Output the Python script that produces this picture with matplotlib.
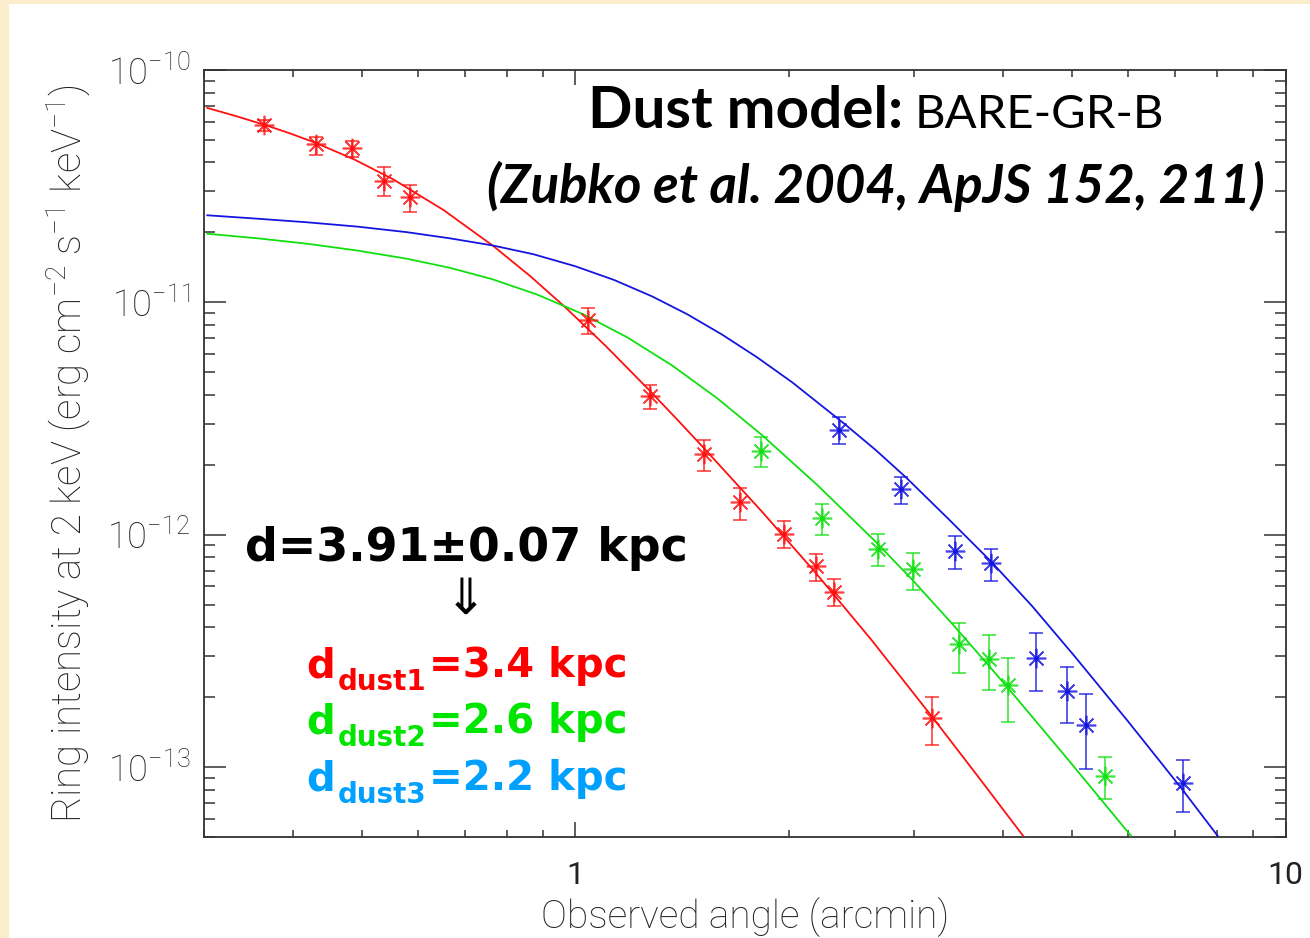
import matplotlib
matplotlib.use("Agg")
import matplotlib.pyplot as plt
from matplotlib.patches import Rectangle
from matplotlib.ticker import FixedLocator, NullFormatter, LogLocator
import numpy as np

# ---------------- data ----------------
red_x = [0.365, 0.432, 0.485, 0.537, 0.585, 1.042, 1.272, 1.519, 1.707, 1.97, 2.18, 2.316, 3.18]
red_y = [5.8e-11, 4.8e-11, 4.6e-11, 3.34e-11, 2.84e-11, 8.43e-12, 3.97e-12, 2.23e-12, 1.38e-12,
         1.01e-12, 7.3e-13, 5.68e-13, 1.62e-13]
red_hi = [6.09e-11, 5.17e-11, 4.97e-11, 3.82e-11, 3.21e-11, 9.46e-12, 4.43e-12, 2.55e-12, 1.59e-12,
          1.15e-12, 8.24e-13, 6.43e-13, 2.0e-13]
red_lo = [5.48e-11, 4.31e-11, 4.21e-11, 2.86e-11, 2.44e-11, 7.33e-12, 3.48e-12, 1.88e-12, 1.16e-12,
          8.8e-13, 6.33e-13, 4.91e-13, 1.245e-13]

green_x = [1.827, 2.228, 2.665, 2.99, 3.47, 3.823, 4.065, 5.575]
green_y = [2.29e-12, 1.175e-12, 8.7e-13, 7.1e-13, 3.37e-13, 2.92e-13, 2.26e-13, 9.18e-14]
green_hi = [2.63e-12, 1.35e-12, 1.01e-12, 8.37e-13, 4.16e-13, 3.71e-13, 2.94e-13, 1.11e-13]
green_lo = [1.96e-12, 9.98e-13, 7.3e-13, 5.78e-13, 2.54e-13, 2.15e-13, 1.57e-13, 7.3e-14]

blue_x = [2.35, 2.87, 3.43, 3.853, 4.45, 4.92, 5.24, 7.17]
blue_y = [2.81e-12, 1.57e-12, 8.49e-13, 7.52e-13, 2.95e-13, 2.12e-13, 1.52e-13, 8.5e-14]
blue_hi = [3.21e-12, 1.77e-12, 9.89e-13, 8.65e-13, 3.76e-13, 2.70e-13, 2.07e-13, 1.07e-13]
blue_lo = [2.45e-12, 1.35e-12, 7.1e-13, 6.35e-13, 2.13e-13, 1.54e-13, 9.82e-14, 6.4e-14]

# model curves
red_curve_x = [0.3032, 0.3331, 0.3658, 0.3966, 0.4313, 0.4894, 0.5550, 0.6526, 0.7671, 0.8619,
               0.9651, 1.1054, 1.2702, 1.3907, 1.5176, 1.8313, 2.1734, 2.6130, 3.1722, 3.6813, 4.2677]
red_curve_y = [6.869e-11, 6.327e-11, 5.797e-11, 5.334e-11, 4.852e-11, 4.108e-11, 3.374e-11, 2.494e-11,
               1.744e-11, 1.305e-11, 9.602e-12, 6.457e-12, 4.194e-12, 3.136e-12, 2.356e-12, 1.257e-12,
               6.926e-13, 3.520e-13, 1.661e-13, 9.194e-14, 5.073e-14]
green_curve_x = [0.3032, 0.3564, 0.4190, 0.4926, 0.5789, 0.6652, 0.7646, 0.8844, 1.0229, 1.1831,
                 1.3686, 1.5831, 1.8313, 2.1936, 2.6382, 2.9841, 3.3847, 3.8148, 4.0700, 4.9582, 6.0582]
green_curve_y = [1.9733e-11, 1.8874e-11, 1.7878e-11, 1.6719e-11, 1.5410e-11, 1.4091e-11, 1.2569e-11,
                 1.0792e-11, 8.923e-12, 7.072e-12, 5.351e-12, 3.871e-12, 2.685e-12, 1.6313e-12,
                 9.433e-13, 6.381e-13, 4.173e-13, 2.749e-13, 2.182e-13, 1.0633e-13, 5.063e-14]
blue_curve_x = [0.3032, 0.3564, 0.4190, 0.4926, 0.5789, 0.6652, 0.7646, 0.8730, 1.0, 1.1343, 1.2826,
                1.4365, 1.6088, 1.8016, 2.0176, 2.3941, 2.6474, 2.9262, 3.3515, 3.8525, 4.3985,
                5.0380, 5.9806, 7.1202, 8.0252]
blue_curve_y = [2.370e-11, 2.2915e-11, 2.211e-11, 2.119e-11, 2.005e-11, 1.887e-11, 1.758e-11,
                1.611e-11, 1.430e-11, 1.248e-11, 1.061e-11, 8.897e-12, 7.271e-12, 5.808e-12,
                4.541e-12, 2.996e-12, 2.317e-12, 1.756e-12, 1.170e-12, 7.647e-13, 4.925e-13,
                3.018e-13, 1.594e-13, 8.171e-14, 5.058e-14]

x_ticks = [1, 10]
x_ticklabels = ["1", "10"]
y_ticks = [1e-13, 1e-12, 1e-11, 1e-10]
y_ticklabels = [r"$10^{-13}$", r"$10^{-12}$", r"$10^{-11}$", r"$10^{-10}$"]

# ---------------- style ----------------
plt.rcParams['mathtext.fontset'] = 'custom'
plt.rcParams['mathtext.rm'] = 'Roboto:light'
plt.rcParams['mathtext.it'] = 'Roboto:light:italic'
plt.rcParams['mathtext.bf'] = 'Roboto:bold'
plt.rcParams['font.family'] = ['Roboto', 'DejaVu Sans']

W, H = 1310, 938
fig = plt.figure(figsize=(W / 100, H / 100), dpi=100)
fig.patch.set_facecolor('#fbeccb')
fig.add_artist(Rectangle((9 / W, 0), 1, 1 - 4 / H, transform=fig.transFigure,
                         facecolor='white', edgecolor='none', zorder=0))

ax = fig.add_axes([204 / W, (H - 837) / H, (1285.5 - 204) / W, (837 - 70) / H])
ax.set_xscale('log')
ax.set_yscale('log')
ax.set_xlim(0.3, 10)
ax.set_ylim(5e-14, 1e-10)

RED = '#ff1010'
GREEN = '#10e010'
BLUE = '#1515e0'

for cx, cy, col in [(red_curve_x, red_curve_y, RED), (green_curve_x, green_curve_y, GREEN),
                    (blue_curve_x, blue_curve_y, BLUE)]:
    ax.plot(cx, cy, color=col, lw=1.3, solid_joinstyle='round', zorder=3)

for px, py, hi, lo, col in [(red_x, red_y, red_hi, red_lo, RED),
                            (green_x, green_y, green_hi, green_lo, GREEN),
                            (blue_x, blue_y, blue_hi, blue_lo, BLUE)]:
    py_a = np.array(py)
    yerr = [py_a - np.array(lo), np.array(hi) - py_a]
    ax.errorbar(px, py, yerr=yerr, fmt='none', ecolor=col, elinewidth=1.2, capsize=4.7,
                capthick=1.2, alpha=0.8, zorder=4)
    ax.plot(px, py, linestyle='none', marker=(8, 2, 0), markersize=14, markeredgewidth=1.2,
            color=col, alpha=0.8, zorder=4)
    ax.plot(px, py, linestyle='none', marker='o', markersize=2.5, color=col, zorder=5)

AX_COL = '#333333'
for s in ax.spines.values():
    s.set_color(AX_COL)
    s.set_linewidth(1.3)

ax.xaxis.set_major_locator(FixedLocator(x_ticks))
ax.set_xticklabels(x_ticklabels)
ax.xaxis.set_minor_locator(LogLocator(base=10, subs=np.arange(2, 10)))
ax.xaxis.set_minor_formatter(NullFormatter())
ax.yaxis.set_major_locator(FixedLocator(y_ticks))
ax.set_yticklabels(y_ticklabels)
ax.yaxis.set_minor_locator(LogLocator(base=10, subs=np.arange(2, 10)))
ax.yaxis.set_minor_formatter(NullFormatter())

ax.tick_params(axis='both', which='both', direction='in', top=True, right=True, colors=AX_COL,
               labelcolor='#222222')
ax.tick_params(axis='x', which='major', length=11, width=1.1, pad=17, labelsize=23)
ax.tick_params(axis='x', which='minor', length=5, width=1.1)
ax.tick_params(axis='y', which='major', length=16, width=1.1, pad=10, labelsize=26)
ax.tick_params(axis='y', which='minor', length=8, width=1.1)

ax.set_xlabel("Observed angle (arcmin)", fontsize=28, fontweight='light', color='#222222',
              va='center')
ax.xaxis.set_label_coords(0.5, (837 - 917) / (837 - 70))
ax.set_ylabel(r"Ring intensity at 2 keV (erg cm$^{-2}$ s$^{-1}$ keV$^{-1}$)", fontsize=29,
              fontweight='light', color='#222222', va='center')
ax.yaxis.set_label_coords((68 - 204) / (1285.5 - 204), 0.5)

# ---------------- annotations ----------------
ANN = ['Lato', 'DejaVu Sans']
ROWF = ['DejaVu Sans']


def fpx(x, y):
    return x / W, 1 - y / H


fig.text(*fpx(588, 128), "Dust model:", fontsize=42, fontweight='bold', family=ANN,
         ha='left', va='baseline', color='black')
fig.text(*fpx(915, 128), "BARE-GR-B", fontsize=34, family=ANN, ha='left', va='baseline', color='black')
fig.text(*fpx(1265, 203), "(Zubko et al. 2004, ApJS 152, 211)", fontsize=38, fontweight='bold',
         style='italic', family=ANN, ha='right', va='baseline', color='black')

fig.text(*fpx(245, 561), "d=3.91\u00b10.07 kpc", fontsize=33, fontweight='bold', family=ROWF,
         ha='left', va='baseline', color='black')
fig.text(*fpx(466, 600), "\u21d3", fontsize=36, family=['DejaVu Sans'], ha='center', va='center',
         color='black')

rows = [("dust1", "=3.4 kpc", '#ff0000', 677),
        ("dust2", "=2.6 kpc", '#00e600', 733),
        ("dust3", "=2.2 kpc", '#00a0ff', 790)]
for sub, rest, col, base in rows:
    t1 = fig.text(*fpx(306, base), "d", fontsize=29, fontweight='bold', family=ROWF,
                  ha='left', va='baseline', color=col)
    t2 = ax.annotate(sub, xy=(1, fpx(0, base + 13)[1]), xycoords=(t1, 'figure fraction'),
                     xytext=(2, 0), textcoords='offset points', fontsize=20, fontweight='bold',
                     family=ROWF, ha='left', va='baseline', color=col, annotation_clip=False)
    ax.annotate(rest, xy=(1, fpx(0, base)[1]), xycoords=(t2, 'figure fraction'),
                xytext=(2, 0), textcoords='offset points', fontsize=29, fontweight='bold',
                family=ROWF, ha='left', va='baseline', color=col, annotation_clip=False)

fig.savefig("out.png", dpi=100, facecolor=fig.get_facecolor())
